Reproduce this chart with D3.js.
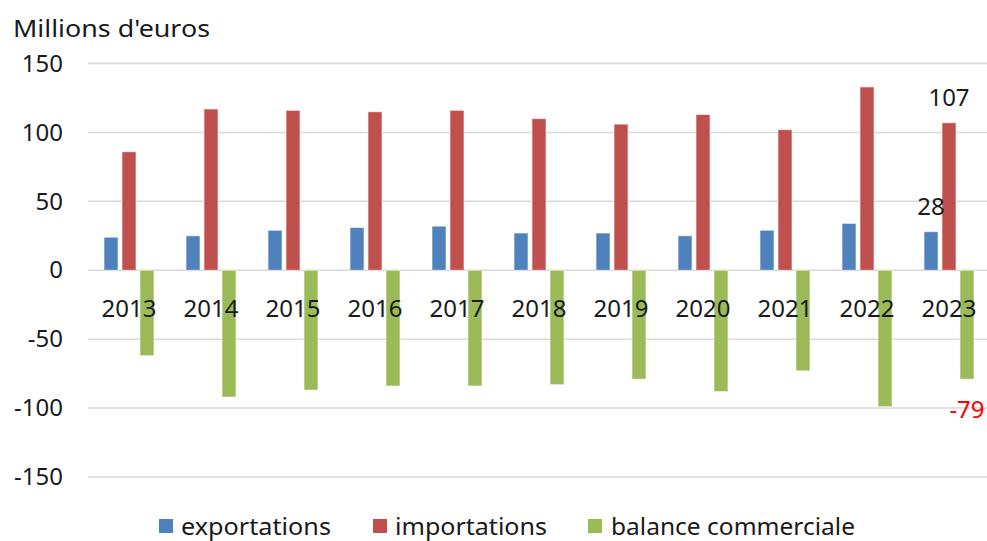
<!DOCTYPE html>
<html>
<head>
<meta charset="utf-8">
<script src="https://cdn.jsdelivr.net/npm/d3@7"></script>
<style>
  body { margin: 0; background: #fff; }
  text { font-family: "Noto Sans", sans-serif; fill: #1a1a1a; }
</style>
</head>
<body>
<div class="main_area"></div>
<script>
const years = ["2013", "2014", "2015", "2016", "2017", "2018", "2019", "2020", "2021", "2022", "2023"];
const exportations = [24, 25, 29, 31, 32, 27, 27, 25, 29, 34, 28];
const importations = [86, 117, 116, 115, 116, 110, 106, 113, 102, 133, 107];
const balance = [-62, -92, -87, -84, -84, -83, -79, -88, -73, -99, -79];
const seriesNames = ["exportations", "importations", "balance commerciale"];
const yTicks = [-150, -100, -50, 0, 50, 100, 150];

const colors = {"exportations": "#4F81BD", "importations": "#C0504D", "balance commerciale": "#9BBB59"};

function drawChart() {
  const width = 987, height = 541;

  const svg = d3.select(".main_area")
    .append("svg")
    .attr("width", width)
    .attr("height", height);

  const x = d3.scaleBand()
    .domain(years)
    .range([88, 990]);

  const x1 = d3.scaleBand()
    .domain(seriesNames)
    .range([0, x.bandwidth()])
    .paddingInner(0.22)
    .paddingOuter(0.89);

  const y = d3.scaleLinear()
    .domain([-150, 150])
    .range([477, 63.5]);

  // grid lines
  svg.append("g")
    .selectAll("line")
    .data(yTicks)
    .enter().append("line")
      .attr("x1", 88)
      .attr("x2", 990)
      .attr("y1", d => y(d))
      .attr("y2", d => y(d))
      .attr("stroke", "#d9d9d9")
      .attr("stroke-width", 1.5);

  // y axis labels (plain hyphen for negatives, like the original)
  const yAxis = d3.axisLeft(y)
    .tickValues(yTicks)
    .tickFormat(d => String(d))
    .tickSize(0)
    .tickPadding(0);
  const yAxisGroup = svg.append("g")
    .attr("transform", "translate(63,0)")
    .call(yAxis);
  yAxisGroup.select(".domain").remove();
  yAxisGroup.selectAll("text")
    .attr("font-family", "Noto Sans")
    .attr("font-size", 24)
    .attr("fill", "#1a1a1a");

  // bars
  const rows = years.map((yr, i) => ({
    year: yr,
    values: [
      {name: "exportations", value: exportations[i]},
      {name: "importations", value: importations[i]},
      {name: "balance commerciale", value: balance[i]}
    ]
  }));

  const groups = svg.append("g")
    .selectAll("g")
    .data(rows)
    .enter().append("g")
      .attr("transform", d => "translate(" + x(d.year) + ",0)");

  groups.selectAll("rect")
    .data(d => d.values)
    .enter().append("rect")
      .attr("x", d => x1(d.name))
      .attr("width", x1.bandwidth())
      .attr("y", d => y(Math.max(0, d.value)))
      .attr("height", d => Math.abs(y(d.value) - y(0)))
      .attr("fill", d => colors[d.name])
      .attr("stroke", "#fff")
      .attr("stroke-opacity", 0.6)
      .attr("stroke-width", 1);

  // x axis category labels
  const xAxis = d3.axisBottom(x).tickSize(0).tickPadding(0);
  const xAxisGroup = svg.append("g")
    .attr("transform", "translate(0,300)")
    .call(xAxis);
  xAxisGroup.select(".domain").remove();
  xAxisGroup.selectAll("text")
    .attr("font-family", "Noto Sans")
    .attr("font-size", 24)
    .attr("fill", "#1a1a1a");

  // data labels for 2023
  const last = years.length - 1;
  const lastYear = years[last];
  svg.append("text")
    .attr("x", x(lastYear) + x1("importations") + x1.bandwidth() / 2)
    .attr("y", y(importations[last]) - 17)
    .attr("text-anchor", "middle")
    .attr("font-size", 24)
    .text(importations[last]);
  svg.append("text")
    .attr("x", x(lastYear) + x1("exportations") + x1.bandwidth() / 2)
    .attr("y", y(exportations[last]) - 17)
    .attr("text-anchor", "middle")
    .attr("font-size", 24)
    .text(exportations[last]);
  svg.append("text")
    .attr("x", x(lastYear) + x1("balance commerciale") + x1.bandwidth() / 2)
    .attr("y", y(balance[last]) + 39)
    .attr("text-anchor", "middle")
    .attr("font-size", 24)
    .style("fill", "#ff0000")
    .text(balance[last]);

  // unit title
  svg.append("text")
    .attr("x", 13)
    .attr("y", 37)
    .attr("font-size", 24)
    .attr("textLength", 197)
    .attr("lengthAdjust", "spacingAndGlyphs")
    .text("Millions d'euros");

  // legend
  const legendItems = [
    {name: "exportations", sx: 159, tx: 181, tw: 150},
    {name: "importations", sx: 373, tx: 395, tw: 152},
    {name: "balance commerciale", sx: 588, tx: 611, tw: 244}
  ];
  const legend = svg.append("g");
  legend.selectAll("rect")
    .data(legendItems)
    .enter().append("rect")
      .attr("x", d => d.sx)
      .attr("y", 519)
      .attr("width", 14)
      .attr("height", 14)
      .attr("fill", d => colors[d.name]);
  legend.selectAll("text")
    .data(legendItems)
    .enter().append("text")
      .attr("x", d => d.tx)
      .attr("y", 535)
      .attr("font-size", 24)
      .attr("textLength", d => d.tw)
      .attr("lengthAdjust", "spacingAndGlyphs")
      .text(d => d.name);
}

drawChart();
</script>
</body>
</html>
